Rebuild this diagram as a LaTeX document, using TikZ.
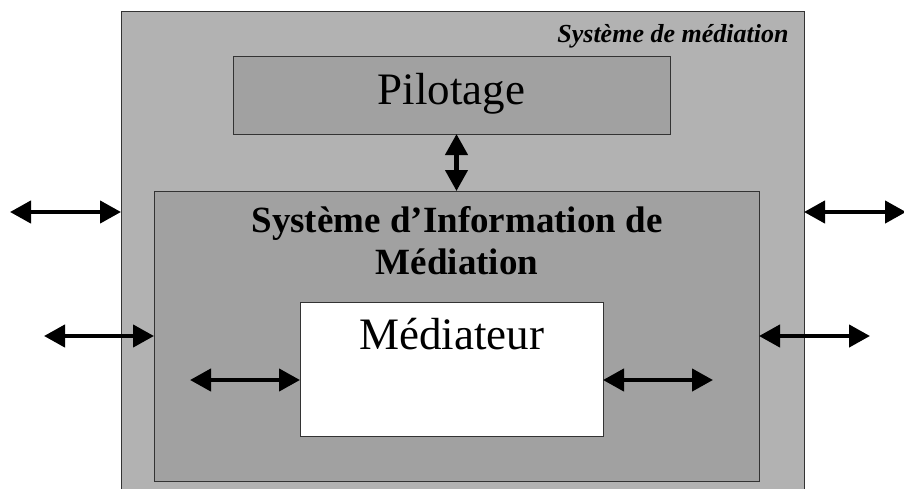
\documentclass[tikz,border=0pt]{standalone}
\usepackage{fontspec}
\setmainfont{Liberation Serif}
\usetikzlibrary{arrows.meta}

\tikzset{
  box/.style={draw=black!80, line width=1pt, inner sep=0pt, outer sep=0pt},
  biarrow/.style={{Triangle[length=21pt,width=22pt]}-{Triangle[length=21pt,width=22pt]}, line width=4.3pt}
}

\begin{document}
\begin{tikzpicture}[x=1pt,y=-1pt]
\useasboundingbox (0,0) rectangle (904,488);
\clip (0,0) rectangle (904,488);

% Systeme de mediation (outer frame)
\node[box, fill=black!30, minimum width=683pt, minimum height=500pt] (mediation) at (462.5,261) {};
\node[anchor=base east, font=\fontsize{26}{31}\selectfont\bfseries\itshape] (mediation-title) at (792,42) {Système de médiation};

% Pilotage
\node[box, fill=black!37, minimum width=437pt, minimum height=78pt] (pilotage) at (451.5,95) {};
\node[anchor=base, font=\fontsize{45}{52}\selectfont] (pilotage-title) at (451.5,104) {Pilotage};

% Systeme d'information de mediation
\node[box, fill=black!37, minimum width=605pt, minimum height=290pt] (sim) at (456.5,336) {};
\node[anchor=base, align=center, font=\fontsize{37}{42}\selectfont\bfseries] (sim-title) at (457,274) {Système d’Information de\\Médiation};

% Mediateur
\node[box, fill=white, minimum width=303pt, minimum height=134pt] (mediateur) at (451.5,369) {};
\node[anchor=base, font=\fontsize{45}{52}\selectfont] (mediateur-title) at (451.5,349) {Médiateur};

% Free ends of the exchanges
\coordinate (out-nw) at (10,212);
\coordinate (out-ne) at (906,212);
\coordinate (out-w) at (44,336);
\coordinate (out-e) at (870,336);
\coordinate (in-w) at (190,380);
\coordinate (in-e) at (713,380);

% Exchanges
\draw[biarrow] (out-nw) -- (out-nw -| mediation.west);
\draw[biarrow] (out-ne -| mediation.east) -- (out-ne);
\draw[biarrow] (out-w) -- (out-w -| sim.west);
\draw[biarrow] (out-e -| sim.east) -- (out-e);
\draw[biarrow] (in-w) -- (in-w -| mediateur.west);
\draw[biarrow] (in-e -| mediateur.east) -- (in-e);
\draw[biarrow] (sim.north |- pilotage.south) -- (sim.north);
\end{tikzpicture}
\end{document}
